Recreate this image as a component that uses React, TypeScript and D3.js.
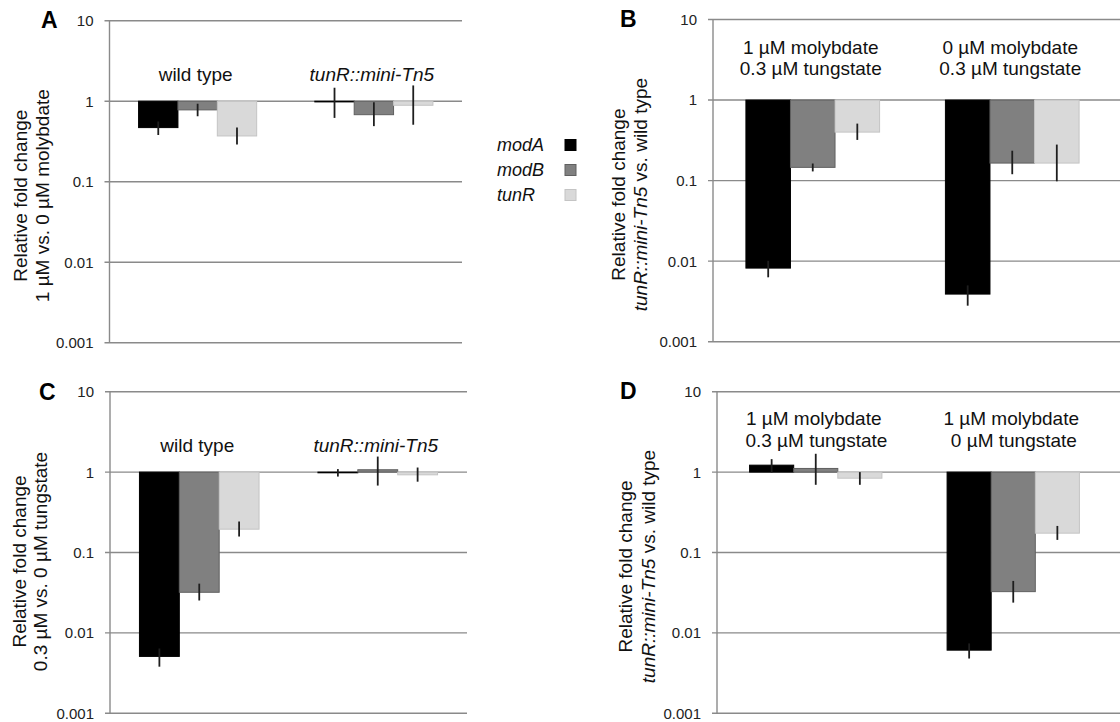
import React from "react";
import * as d3 from "d3";

// genes / legend
const genes = ["modA", "modB", "tunR"];
const geneFill = ["#000000", "#808080", "#d9d9d9"];
const geneStroke = ["#000000", "#606060", "#c4c4c4"];

// log axis
const yTicks = [10, 1, 0.1, 0.01, 0.001];
const tickLabels = ["10", "1", "0.1", "0.01", "0.001"];

// panel A: 1 uM vs 0 uM molybdate
const aGroups = [["wild type"], ["tunR::mini-Tn5"]];
const aGroupItalic = [false, true];
const aValues = [[0.47, 0.78, 0.37], [0.98, 0.68, 0.89]];
const aErrLow = [[0.38, 0.65, 0.29], [0.62, 0.49, 0.51]];
const aErrHigh = [[0.56, 0.93, 0.47], [1.47, 0.97, 1.57]];
const aTitle = [[["Relative fold change", false]], [["1 µM vs. 0 µM molybdate", false]]];

// panel B: tunR::mini-Tn5 vs wild type
const bGroups = [["1 µM molybdate", "0.3 µM tungstate"], ["0 µM molybdate", "0.3 µM tungstate"]];
const bGroupItalic = [false, false];
const bValues = [[0.0082, 0.146, 0.4], [0.0039, 0.165, 0.165]];
const bErrLow = [[0.0063, 0.13, 0.32], [0.0028, 0.12, 0.098]];
const bErrHigh = [[0.0101, 0.163, 0.51], [0.005, 0.235, 0.28]];
const bTitle = [[["Relative fold change", false]], [["tunR::mini-Tn5", true], [" vs. wild type", false]]];

// panel C: 0.3 uM vs 0 uM tungstate
const cGroups = [["wild type"], ["tunR::mini-Tn5"]];
const cGroupItalic = [false, true];
const cValues = [[0.0051, 0.032, 0.195], [0.98, 1.07, 0.925]];
const cErrLow = [[0.0038, 0.0253, 0.158], [0.88, 0.68, 0.76]];
const cErrHigh = [[0.0064, 0.041, 0.243], [1.09, 1.56, 1.14]];
const cTitle = [[["Relative fold change", false]], [["0.3 µM vs. 0 µM tungstate", false]]];

// panel D: tunR::mini-Tn5 vs wild type
const dGroups = [["1 µM molybdate", "\u00a00.3 µM tungstate"], ["1 µM molybdate", "\u00a00 µM tungstate"]];
const dGroupItalic = [false, false];
const dValues = [[1.22, 1.11, 0.84], [0.0061, 0.0326, 0.174]];
const dErrLow = [[0.99, 0.695, 0.695], [0.0048, 0.0238, 0.1435]];
const dErrHigh = [[1.45, 1.69, 1.0], [0.0074, 0.0443, 0.214]];
const dTitle = [[["Relative fold change", false]], [["tunR::mini-Tn5", true], [" vs. wild type", false]]];

const FONT = "'Liberation Sans', Arial, Helvetica, sans-serif";
const GRID = "#8a8a8a";

const panels = [
  {
    letter: "A", lx: 41, ly: 28, left: 109.5, right: 462, gridRight: 462, top: 20.7, bottom: 342.7,
    groups: aGroups, italic: aGroupItalic, values: aValues, lo: aErrLow, hi: aErrHigh, title: aTitle,
    labelY: [60], titleX: [-83, -61], titleDy: 14,
  },
  {
    letter: "B", lx: 620, ly: 27, left: 713, right: 1112, gridRight: 1120, top: 19.5, bottom: 341.7,
    groups: bGroups, italic: bGroupItalic, values: bValues, lo: bErrLow, hi: bErrHigh, title: bTitle,
    labelY: [34, 55.5], titleX: [-88, -66], titleDy: 14,
  },
  {
    letter: "C", lx: 39, ly: 400, left: 110, right: 467, gridRight: 467, top: 391.7, bottom: 713.3,
    groups: cGroups, italic: cGroupItalic, values: cValues, lo: cErrLow, hi: cErrHigh, title: cTitle,
    labelY: [60], titleX: [-84, -63], titleDy: 9,
  },
  {
    letter: "D", lx: 620, ly: 399, left: 717, right: 1112, gridRight: 1120, top: 391.7, bottom: 713.3,
    groups: dGroups, italic: dGroupItalic, values: dValues, lo: dErrLow, hi: dErrHigh, title: dTitle,
    labelY: [33.5, 55], titleX: [-85, -62], titleDy: 14,
  },
];

function Panel({ p }: { p: any }) {
  const y = d3.scaleLog().domain([0.001, 10]).range([p.bottom, p.top]);
  const x0 = d3.scaleBand<number>().domain(p.groups.map((_: any, i: number) => i)).range([p.left, p.right]);
  const inner = x0.bandwidth() * 0.67;
  const off = (x0.bandwidth() - inner) / 2;
  const x1 = d3.scaleBand<string>().domain(genes).range([0, inner]);
  const midY = (p.top + p.bottom) / 2 + p.titleDy;

  return (
    <g>
      <text x={p.lx} y={p.ly} fontSize={23} fontWeight="bold" fontFamily={FONT}>{p.letter}</text>

      {yTicks.map((t, i) => (
        <g key={t}>
          <line x1={p.left - 5} x2={p.gridRight} y1={y(t)} y2={y(t)} stroke={GRID} strokeWidth={1.4} />
          <text x={p.left - 16} y={y(t)} dy="0.36em" textAnchor="end" fontSize={15} fontFamily={FONT} fill="#222">
            {tickLabels[i]}
          </text>
        </g>
      ))}
      <line x1={p.left} x2={p.left} y1={p.top} y2={p.bottom} stroke={GRID} strokeWidth={1.4} />

      {p.values.map((row: number[], gi: number) =>
        row.map((v, k) => {
          const bx = (x0(gi) as number) + off + (x1(genes[k]) as number);
          const y1 = y(1);
          const yv = y(v);
          return (
            <rect key={`b${gi}-${k}`} x={bx} width={x1.bandwidth()} y={Math.min(y1, yv)}
              height={Math.max(0.6, Math.abs(yv - y1))} fill={geneFill[k]} stroke={geneStroke[k]} strokeWidth={1} />
          );
        })
      )}

      {p.values.map((row: number[], gi: number) =>
        row.map((_v, k) => {
          const cx = (x0(gi) as number) + off + (x1(genes[k]) as number) + x1.bandwidth() / 2;
          return (
            <line key={`e${gi}-${k}`} x1={cx} x2={cx} y1={y(p.lo[gi][k])} y2={y(p.hi[gi][k])}
              stroke="#1e1e1e" strokeWidth={1.8} />
          );
        })
      )}

      {p.groups.map((lines: string[], gi: number) =>
        lines.map((s, li) => (
          <text key={`g${gi}-${li}`} x={(x0(gi) as number) + x0.bandwidth() / 2 - 2} y={p.top + p.labelY[li]}
            textAnchor="middle" fontSize={19} fontFamily={FONT} fontStyle={p.italic[gi] ? "italic" : "normal"} fill="#111">
            {s}
          </text>
        ))
      )}

      {p.title.map((segs: any[], li: number) => (
        <text key={`t${li}`} transform={`translate(${p.left + p.titleX[li]},${midY}) rotate(-90)`}
          textAnchor="middle" fontSize={19} fontFamily={FONT} fill="#111">
          {segs.map((s: any, si: number) => (
            <tspan key={si} fontStyle={s[1] ? "italic" : "normal"}>{s[0]}</tspan>
          ))}
        </text>
      ))}
    </g>
  );
}

function Legend() {
  const rowY = d3.scalePoint<string>().domain(genes).range([145, 195]);
  return (
    <g>
      {genes.map((g, i) => (
        <g key={g}>
          <text x={497} y={(rowY(g) as number) + 6} fontSize={18} fontStyle="italic" fontFamily={FONT} fill="#111">{g}</text>
          <rect x={565} y={(rowY(g) as number) - 5.5} width={11} height={11} fill={geneFill[i]} stroke={geneStroke[i]} strokeWidth={1} />
        </g>
      ))}
    </g>
  );
}

export default function App() {
  return (
    <svg width={1120} height={722} style={{ position: "absolute", left: 0, top: 0, background: "#fff", display: "block" }}>
      <rect width={1120} height={722} fill="#fff" />
      {panels.map((p) => <Panel key={p.letter} p={p} />)}
      <Legend />
    </svg>
  );
}
